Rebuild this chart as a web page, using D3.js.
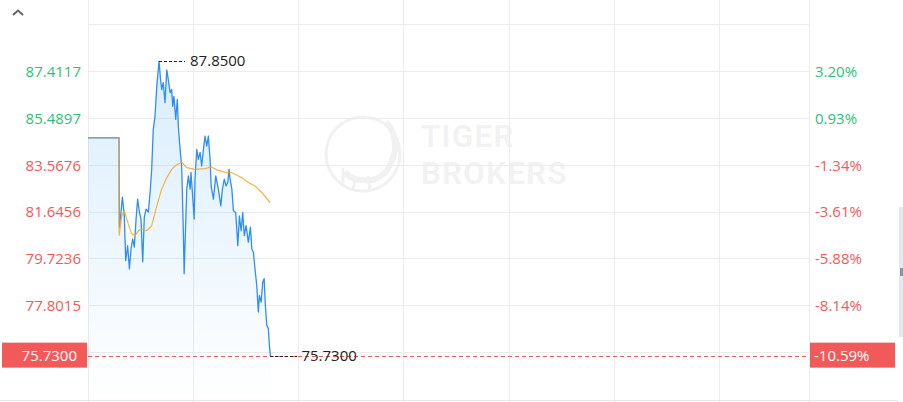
<!DOCTYPE html>
<html><head><meta charset="utf-8">
<script src="https://cdn.jsdelivr.net/npm/d3@7"></script>
<style>
html,body{margin:0;padding:0;background:#fff;}
svg{display:block;font-family:"Open Sans","Noto Sans",sans-serif;}
</style></head>
<body><svg id="c" width="903" height="402"></svg>
<script>
// ---- data ----
const prevClose = 84.70;
const priceTicks = [87.4117, 85.4897, 83.5676, 81.6456, 79.7236, 77.8015];
const priceTickLabels = ["87.4117", "85.4897", "83.5676", "81.6456", "79.7236", "77.8015"];
const pctTickLabels = ["3.20%", "0.93%", "-1.34%", "-3.61%", "-5.88%", "-8.14%"];
const gridPrices = [89.3338, 87.4117, 85.4897, 83.5676, 81.6456, 79.7236, 77.8015, 75.8795];
const timeGrid = [0, 60, 120, 180, 240, 300, 360];
const timeDomain = [0, 411];

const priceTimes = [0, 17.7, 17.9, 18.8, 19.6, 20.7, 21.5, 22.6, 23.6, 24.5, 25.5, 26.4, 27.4, 28.3, 29.3, 30.2, 31.2, 32.1, 33.1, 34.4, 35.4, 36.3, 37.2, 38.2, 39.2, 39.8, 40.5, 41.2, 42.0, 42.9, 43.9, 44.9, 45.8, 46.8, 47.7, 48.3, 49.0, 50.0, 50.9, 51.5, 52.5, 53.4, 54.4, 54.8, 55.3, 56.3, 57.2, 58.2, 58.7, 59.5, 60.5, 61.0, 62.0, 62.9, 63.9, 64.8, 65.8, 66.7, 67.7, 68.6, 69.6, 70.2, 71.5, 72.8, 74.3, 75.7, 76.6, 77.7, 78.7, 79.7, 80.4, 81.0, 82.0, 82.9, 84.2, 85.4, 86.3, 87.3, 88.2, 89.1, 90.1, 91.4, 92.6, 93.4, 94.3, 95.2, 96.2, 97.1, 97.7, 98.7, 99.6, 100.4, 101.0, 101.9, 102.8, 103.4, 104.0];
const prices = [84.70, 84.70, 81.03, 81.65, 82.26, 81.49, 79.65, 80.27, 79.31, 80.13, 80.54, 80.21, 81.36, 82.18, 81.65, 81.36, 79.60, 81.44, 81.77, 81.65, 82.46, 83.40, 85.04, 85.58, 86.81, 87.29, 87.85, 87.22, 86.68, 86.96, 86.14, 87.49, 87.08, 86.55, 86.68, 85.99, 86.40, 85.45, 86.27, 85.17, 84.22, 83.54, 80.68, 79.11, 80.27, 82.59, 83.13, 82.59, 83.28, 82.46, 81.36, 83.00, 84.22, 83.81, 84.10, 83.54, 84.22, 84.77, 84.36, 84.77, 83.81, 82.72, 82.18, 83.13, 82.59, 81.90, 82.59, 83.00, 82.72, 82.87, 83.40, 83.00, 82.59, 81.70, 81.63, 80.27, 81.49, 80.88, 81.63, 80.68, 81.09, 80.41, 81.03, 80.13, 80.00, 79.31, 78.63, 77.54, 78.22, 77.95, 78.77, 78.91, 77.95, 77.00, 76.86, 76.18, 75.73];

const avgTimes = [0, 17.7, 17.75, 19.2, 20.7, 23.0, 24.9, 26.8, 28.7, 30.6, 33.5, 36.3, 39.2, 42.0, 44.9, 47.7, 49.6, 53.4, 56.3, 61.0, 66.7, 70.2, 73.4, 78.1, 82.0, 87.7, 91.4, 95.2, 99.1, 103.8];
const avgPrices = [84.70, 84.70, 80.68, 81.49, 81.70, 81.15, 80.75, 80.68, 80.88, 80.95, 80.88, 81.09, 81.90, 82.59, 83.06, 83.40, 83.54, 83.70, 83.47, 83.40, 83.43, 83.50, 83.38, 83.29, 83.27, 83.06, 82.86, 82.72, 82.45, 82.04];

const highPrice = 87.85, highLabel = "87.8500";
const lastPrice = 75.73, lastLabel = "75.7300", lastPctLabel = "-10.59%";
const watermarkLines = ["TIGER", "BROKERS"];

// ---- chart ----
const GREEN = "#2ebf78", RED = "#f25a5a";
const svg = d3.select("#c");
const x = d3.scaleLinear().domain(timeDomain).range([88, 809]);
const y = d3.scaleLinear().domain([87.4117, 77.8015]).range([71.7, 305.7]);
const plotBottom = 400;

const defs = svg.append("defs");
const grad = defs.append("linearGradient").attr("id", "ag").attr("x1", 0).attr("y1", 0).attr("x2", 0).attr("y2", 1);
grad.append("stop").attr("offset", "0%").attr("stop-color", "#2196f3").attr("stop-opacity", 0.17);
grad.append("stop").attr("offset", "100%").attr("stop-color", "#2196f3").attr("stop-opacity", 0.0);

// watermark
const wm = svg.append("g").attr("fill", "none").attr("stroke", "#f1f1f1");
wm.append("circle").attr("cx", 363).attr("cy", 154).attr("r", 37).attr("stroke-width", 3);
wm.append("path").attr("d", "M345,172 Q352,182 372,180 Q390,176 395,150 Q396,132 386,122").attr("stroke-width", 6);
wm.append("path").attr("d", "M343,168 L343,185 M356,176 L353,190 M368,176 L370,190").attr("stroke-width", 3);
svg.append("g").selectAll("text").data(watermarkLines).join("text")
  .attr("x", 421).attr("y", (d, i) => 147 + i * 37)
  .attr("font-size", 31).attr("font-weight", 600).attr("letter-spacing", 1.5)
  .attr("fill", "#f2f2f2").attr("font-family", "Roboto, sans-serif").text(d => d);

// grid
const grid = svg.append("g").attr("stroke", "#ececec").attr("stroke-width", 1).attr("shape-rendering", "crispEdges");
grid.selectAll(".h").data(gridPrices).join("line")
  .attr("x1", 88).attr("x2", 809)
  .attr("y1", d => y(d)).attr("y2", d => y(d));
grid.selectAll(".v").data(timeGrid.concat([timeDomain[1]])).join("line")
  .attr("x1", d => x(d)).attr("x2", d => x(d))
  .attr("y1", 0).attr("y2", 402);
svg.append("line").attr("x1", 0).attr("x2", 898).attr("y1", 400.5).attr("y2", 400.5)
  .attr("stroke", "#e6e6e6");

// area + lines
const pts = priceTimes.map((t, i) => [t, prices[i]]);
const apts = avgTimes.map((t, i) => [t, avgPrices[i]]);
svg.append("path").datum(pts).attr("fill", "url(#ag)")
  .attr("d", d3.area().x(d => x(d[0])).y0(plotBottom).y1(d => y(d[1])));
svg.append("path").datum(pts).attr("fill", "none").attr("stroke", "#2e8ff0").attr("stroke-width", 1.3)
  .attr("stroke-linejoin", "round")
  .attr("d", d3.line().x(d => x(d[0])).y(d => y(d[1])));
svg.append("path").datum(apts).attr("fill", "none").attr("stroke", "#f5a623").attr("stroke-width", 1.2)
  .attr("stroke-opacity", 0.85)
  .attr("d", d3.line().x(d => x(d[0])).y(d => y(d[1])));

// last price dashed line
const yl = y(lastPrice);
svg.append("line").attr("x1", 88).attr("x2", 809).attr("y1", yl).attr("y2", yl)
  .attr("shape-rendering", "crispEdges")
  .attr("stroke", RED).attr("stroke-dasharray", "4,3").attr("stroke-width", 1);

// high / last annotations
const iHigh = prices.indexOf(highPrice);
const xh = x(priceTimes[iHigh]), yh = y(highPrice);
svg.append("line").attr("x1", xh).attr("x2", xh + 26).attr("y1", yh).attr("y2", yh)
  .attr("shape-rendering", "crispEdges")
  .attr("stroke", "#222").attr("stroke-dasharray", "3,2");
svg.append("text").attr("x", xh + 31).attr("y", yh).attr("dy", "0.35em").attr("font-size", 15)
  .attr("fill", "#222").text(highLabel);
const xlast = x(priceTimes[priceTimes.length - 1]);
svg.append("line").attr("x1", xlast).attr("x2", xlast + 27).attr("y1", yl).attr("y2", yl)
  .attr("shape-rendering", "crispEdges")
  .attr("stroke", "#222").attr("stroke-dasharray", "3,2");
svg.append("text").attr("x", xlast + 31).attr("y", yl).attr("dy", "0.35em").attr("font-size", 15)
  .attr("fill", "#222").text(lastLabel);

// left axis
const left = svg.append("g").attr("transform", "translate(88,0)")
  .call(d3.axisLeft(y).tickValues(priceTicks).tickSize(0).tickPadding(7)
    .tickFormat((d, i) => priceTickLabels[i]));
left.select(".domain").remove();
left.selectAll("text").attr("font-size", 15).attr("font-family", "'Open Sans', sans-serif")
  .attr("fill", d => d >= prevClose ? GREEN : RED);

// right axis
const right = svg.append("g").attr("transform", "translate(809,0)")
  .call(d3.axisRight(y).tickValues(priceTicks).tickSize(0).tickPadding(6)
    .tickFormat((d, i) => pctTickLabels[i]));
right.select(".domain").remove();
right.selectAll("text").attr("font-size", 15).attr("font-family", "'Open Sans', sans-serif")
  .attr("fill", d => d >= prevClose ? GREEN : RED);

// last price boxes
svg.append("rect").attr("x", 2).attr("y", yl - 13.5).attr("width", 85).attr("height", 25).attr("fill", RED);
svg.append("text").attr("x", 77).attr("y", yl).attr("dy", "0.35em").attr("text-anchor", "end")
  .attr("font-size", 15).attr("fill", "#fff").text(lastLabel);
svg.append("rect").attr("x", 810).attr("y", yl - 13.5).attr("width", 85).attr("height", 25).attr("fill", RED);
svg.append("text").attr("x", 814).attr("y", yl).attr("dy", "0.35em")
  .attr("font-size", 15).attr("fill", "#fff").text(lastPctLabel);

// caret icon
svg.append("path").attr("d", "M13,15 L18,10.5 L23,15").attr("fill", "none")
  .attr("stroke", "#666").attr("stroke-width", 2);

// right scroll strip
svg.append("rect").attr("x", 899).attr("y", 207).attr("width", 4).attr("height", 130).attr("fill", "#e5e9ee");
svg.append("rect").attr("x", 900).attr("y", 268).attr("width", 3).attr("height", 8).attr("fill", "#8d939c");
</script></body></html>
